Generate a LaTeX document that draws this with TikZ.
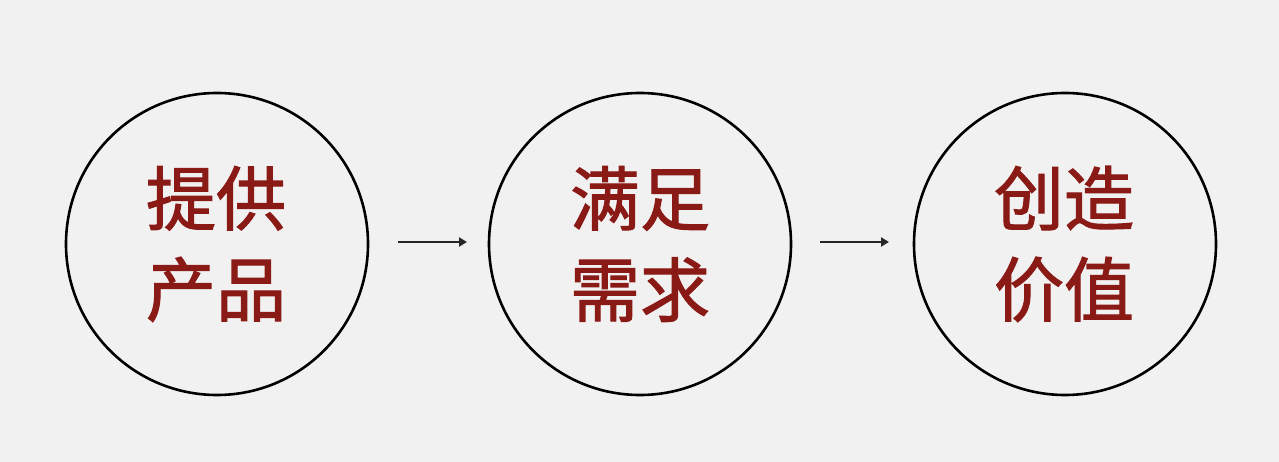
\documentclass[tikz,border=0pt]{standalone}
\usepackage{fontspec}
\newfontfamily\cjk[FakeBold=1.6]{Noto Sans CJK SC}
\usetikzlibrary{arrows.meta}
\definecolor{bg}{HTML}{F1F1F1}
\definecolor{txt}{HTML}{8A1A15}
\tikzset{
  circ/.style={circle, draw=black, line width=2.6pt, minimum size=302pt, inner sep=0pt},
  lbl/.style={text=txt, font=\cjk\fontsize{70}{91}\selectfont, align=center},
  arr/.style={draw=black!85, line width=2.4pt, -{Triangle[length=8pt,width=9pt]}}
}
\begin{document}
\begin{tikzpicture}[x=1pt,y=-1pt]
\fill[bg] (0,0) rectangle (1279,462);
\useasboundingbox (0,0) rectangle (1279,462);
\node[circ] (c1) at (217,244) {};
\node[circ] (c2) at (640,244) {};
\node[circ] (c3) at (1065,244) {};
\node[lbl] (t1) at (216,244) {提供\\产品};
\node[lbl] (t2) at (640,244) {满足\\需求};
\node[lbl] (t3) at (1064,244) {创造\\价值};
\coordinate (a1s) at (398,242);
\coordinate (a1e) at (467,242);
\coordinate (a2s) at (820,242);
\coordinate (a2e) at (889,242);
\draw[arr] (a1s) -- (a1e);
\draw[arr] (a2s) -- (a2e);
\end{tikzpicture}
\end{document}
